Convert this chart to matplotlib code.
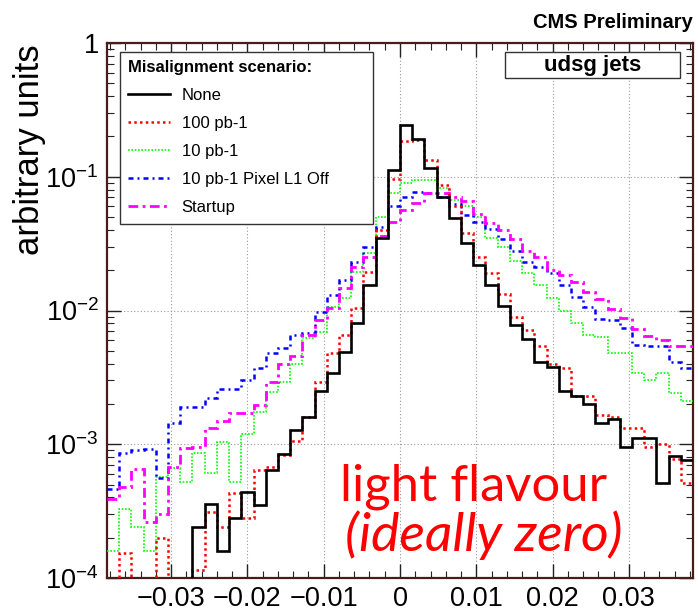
import matplotlib
matplotlib.use("Agg")
import matplotlib.pyplot as plt
import numpy as np
from matplotlib.patches import Rectangle

plt.rcParams['font.family'] = ['Liberation Sans', 'DejaVu Sans']
plt.rcParams['mathtext.fontset'] = 'custom'
plt.rcParams['mathtext.rm'] = 'Liberation Sans'
plt.rcParams['mathtext.default'] = 'regular'

# 48 bins of width 0.0016 between -0.0384 and 0.0384
edges = np.linspace(-0.0384, 0.0384, 49)

none = [0, 0, 0, 0, 0, 0, 0, 2.4e-4, 3.6e-4, 1.6e-4, 2.8e-4, 4.4e-4,
        3.5e-4, 6.4e-4, 8.5e-4, 1.27e-3, 1.6e-3, 2.5e-3, 3.4e-3, 4.9e-3,
        8.1e-3, 0.0155, 0.035, 0.112, 0.244, 0.191, 0.116, 0.0706,
        0.049, 0.032, 0.0219, 0.0155, 0.0108, 0.0078, 0.0061, 0.0041,
        0.0038, 0.0025, 0.0023, 0.0020, 0.00145, 0.00155, 0.00095,
        0.00112, 0.00112, 0.00051, 0.00081, 0.00076]

pb100 = [0, 1.55e-4, 0, 0, 2.0e-4, 0, 0, 1.15e-4, 3.1e-4, 2.4e-4, 4.3e-4,
         2.8e-4, 6.4e-4, 6.8e-4, 8.3e-4, 1.05e-3, 1.6e-3, 2.9e-3, 4.8e-3,
         6.6e-3, 0.0104, 0.0194, 0.040, 0.096, 0.185, 0.188, 0.133, 0.087,
         0.060, 0.038, 0.025, 0.019, 0.0133, 0.0090, 0.0071, 0.0054,
         0.0040, 0.0037, 0.0023, 0.0023, 0.00166, 0.0016, 0.00133,
         0.00133, 0.00095, 0.0010, 0.00077, 0.00051]

pb10 = [1.6e-4, 3.3e-4, 2.4e-4, 1.6e-4, 5.7e-4, 6.7e-4, 5.2e-4, 8.6e-4,
        6.1e-4, 1.04e-3, 5.2e-4, 1.2e-3, 1.74e-3, 2.46e-3, 2.9e-3, 4.0e-3,
        6.2e-3, 6.9e-3, 0.0106, 0.0124, 0.0194, 0.027, 0.050, 0.076,
        0.090, 0.095, 0.094, 0.083, 0.067, 0.060, 0.050, 0.035, 0.030,
        0.0235, 0.019, 0.0155, 0.0124, 0.0099, 0.0080, 0.0066, 0.0063,
        0.0048, 0.0048, 0.0034, 0.0030, 0.0034, 0.0024, 0.0021]

pixel_off = [4.6e-4, 8.6e-4, 9.0e-4, 9.2e-4, 5.6e-4, 1.44e-3, 1.9e-3,
             1.9e-3, 2.2e-3, 2.6e-3, 2.6e-3, 3.0e-3, 3.7e-3, 4.8e-3,
             5.2e-3, 6.6e-3, 6.8e-3, 9.8e-3, 0.0131, 0.0169, 0.023, 0.030,
             0.042, 0.060, 0.070, 0.077, 0.075, 0.070, 0.063, 0.052, 0.046,
             0.041, 0.034, 0.028, 0.023, 0.021, 0.0190, 0.0155, 0.0126,
             0.0106, 0.0087, 0.0085, 0.0074, 0.0055, 0.0054, 0.0054,
             0.0041, 0.0037]

startup = [3.9e-4, 4.8e-4, 6.5e-4, 2.6e-4, 3.0e-4, 6.8e-4, 9.3e-4, 9.5e-4,
           1.33e-3, 1.48e-3, 1.72e-3, 1.7e-3, 1.96e-3, 2.9e-3, 4.0e-3,
           4.6e-3, 6.6e-3, 8.5e-3, 0.0104, 0.0147, 0.021, 0.025, 0.036,
           0.046, 0.056, 0.064, 0.075, 0.075, 0.071, 0.066, 0.053, 0.045,
           0.040, 0.034, 0.028, 0.025, 0.020, 0.0185, 0.0163, 0.0138,
           0.0122, 0.0103, 0.0088, 0.0073, 0.0065, 0.0060, 0.0054, 0.0054]

labels = ["None", "100 pb-1", "10 pb-1", "10 pb-1 Pixel L1 Off", "Startup"]
xticks = [-0.03, -0.02, -0.01, 0, 0.01, 0.02, 0.03]
xtick_labels = ["\u22120.03", "\u22120.02", "\u22120.01", "0", "0.01", "0.02", "0.03"]
yticks = [1e-4, 1e-3, 1e-2, 1e-1, 1]
ytick_labels = ["$10^{-4}$", "$10^{-3}$", "$10^{-2}$", "$10^{-1}$", "1"]

fig = plt.figure(figsize=(6.98, 6.11), dpi=100)
ax = fig.add_axes([107/698, 33/611, 586/698, 535/611])
ax.set_yscale('log')

ax.stairs(none, edges, baseline=None, color='black', lw=1.9, label=labels[0], zorder=6)
ax.stairs(pb100, edges, baseline=None, color='#ff0000', lw=1.8,
          linestyle=(0, (1, 1.3)), label=labels[1], zorder=5)
ax.stairs(pb10, edges, baseline=None, color='#00ff00', lw=1.2,
          linestyle=(0, (1, 1)), label=labels[2], zorder=3)
ax.stairs(pixel_off, edges, baseline=None, color='#0000ff', lw=1.8,
          linestyle=(0, (2, 1.6, 0.8, 1.6)), label=labels[3], zorder=4)
ax.stairs(startup, edges, baseline=None, color='#ff00ff', lw=2.0,
          linestyle=(0, (3.5, 1.6, 1, 1.6)), label=labels[4], zorder=4)

ax.set_xlim(edges[0], edges[-1])
ax.set_ylim(1e-4, 1)
ax.set_xticks(xticks)
ax.set_xticklabels(xtick_labels)
ax.xaxis.set_minor_locator(matplotlib.ticker.MultipleLocator(0.002))
ax.set_yticks(yticks)
ax.set_yticklabels(ytick_labels)
ax.yaxis.set_minor_locator(matplotlib.ticker.LogLocator(subs=np.arange(2, 10)))
ax.yaxis.set_minor_formatter(matplotlib.ticker.NullFormatter())

ax.tick_params(which='both', direction='in', top=True, right=True,
               color='#222222', labelsize=19.5)
ax.tick_params(which='major', length=10, width=1)
ax.tick_params(which='minor', length=5, width=0.8)
ax.tick_params(axis='x', pad=6)
ax.tick_params(axis='y', pad=6)

ax.grid(True, which='major', color='#999999', linestyle=(0, (1, 2)), lw=0.8)
ax.set_axisbelow(True)
for s in ax.spines.values():
    s.set_color('#4a1c1c')
    s.set_linewidth(1.6)

ax.set_ylabel("arbitrary units", fontsize=25)
ax.yaxis.set_label_coords(-0.104, 0.80)

leg = ax.legend(loc='upper left', bbox_to_anchor=(0.0222, 0.5, 0.4317, 0.4832),
                mode='expand', borderaxespad=0, fontsize=12,
                title="Misalignment scenario:",
                title_fontproperties={'weight': 'bold', 'size': 12},
                alignment='left', fancybox=False, framealpha=1,
                edgecolor='#333333', handlelength=2.5, handletextpad=0.7,
                labelspacing=0.78, borderpad=0.5)
leg.get_frame().set_linewidth(1.0)
leg.set_zorder(10)

# label box
ax.add_patch(Rectangle((0.679, 0.935), 0.299, 0.048, transform=ax.transAxes,
                       facecolor='white', edgecolor='#333333', lw=1.0, zorder=10))
ax.text(0.828, 0.958, "udsg jets", transform=ax.transAxes, ha='center', va='center',
        fontsize=16, fontweight='bold', zorder=11)

fig.text(693/698, 1 - 28/611, "CMS Preliminary", ha='right', va='baseline',
         fontsize=14.5, fontweight='bold')

fig.text(340/698, 1 - 500/611, "light flavour", color='red', fontsize=36.5,
         family='Lato', va='baseline', ha='left')
fig.text(345/698, 1 - 551/611, "(ideally zero)", color='red', fontsize=38.5,
         family='Lato', style='italic', va='baseline', ha='left')

fig.savefig("out.png", dpi=100)
